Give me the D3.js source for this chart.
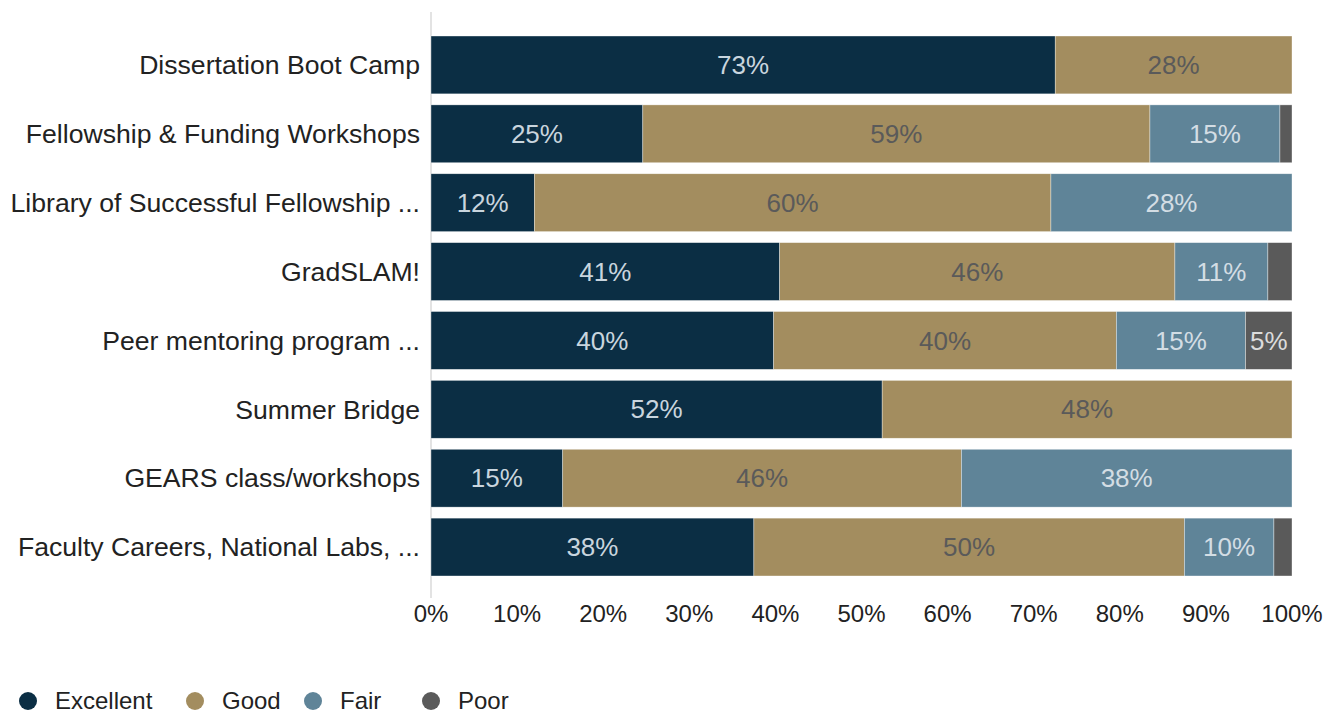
<!DOCTYPE html>
<html>
<head>
<meta charset="utf-8">
<script src="https://cdn.jsdelivr.net/npm/d3@7"></script>
<style>
  body { margin: 0; background: #fff; }
  svg text { font-family: "Liberation Sans", Arial, sans-serif; }
</style>
</head>
<body>
<svg id="chart" width="1328" height="713"></svg>
<script>
// data
const categories = [
  "Dissertation Boot Camp",
  "Fellowship & Funding Workshops",
  "Library of Successful Fellowship ...",
  "GradSLAM!",
  "Peer mentoring program ...",
  "Summer Bridge",
  "GEARS class/workshops",
  "Faculty Careers, National Labs, ..."
]
const series = ["Excellent", "Good", "Fair", "Poor"]
const excellent = [72.5, 24.6, 12.0, 40.5, 39.8, 52.4, 15.3, 37.5]
const good      = [27.5, 58.9, 60.0, 45.9, 39.8, 47.6, 46.3, 50.0]
const fair      = [0,    15.1, 28.0, 10.8, 15.0, 0,    38.4, 10.4]
const poor      = [0,    1.4,  0,    2.8,  5.4,  0,    0,    2.1]
const ticks = [0, 10, 20, 30, 40, 50, 60, 70, 80, 90, 100]

const colors = ["#0b2e44", "#a38d5f", "#5f8498", "#5a5a5a"]
const labelColors = ["#c9d5de", "#5a5a5a", "#d3dde4", "#dcdcdc"]

const rows = categories.map((c, i) => ({
  cat: c, Excellent: excellent[i], Good: good[i], Fair: fair[i], Poor: poor[i]
}))

const svg = d3.select('#chart')

const x = d3.scaleLinear().domain([0, 100]).range([431, 1292])
const y = d3.scaleBand().domain(categories).range([30.5, 581.5])
    .paddingInner(0.16).paddingOuter(0.08)
const color = d3.scaleOrdinal().domain(series).range(colors)

const stack = d3.stack().keys(series)(rows)

// axis line
svg.append('line')
    .attr('x1', 431).attr('x2', 431)
    .attr('y1', 12).attr('y2', 598)
    .attr('stroke', '#e3e3e3').attr('stroke-width', 2)

const layers = svg.append('g').selectAll('g')
    .data(stack).join('g')
    .attr('fill', d => color(d.key))

layers.selectAll('rect')
    .data(d => d.map(v => ({ key: d.key, v: v })))
    .join('rect')
    .filter(d => d.v[1] - d.v[0] > 0)
    .attr('x', d => x(d.v[0]))
    .attr('width', d => x(d.v[1]) - x(d.v[0]))
    .attr('y', d => y(d.v.data.cat))
    .attr('height', y.bandwidth())
    .attr('stroke', '#ffffff').attr('stroke-opacity', 0.6).attr('stroke-width', 0.6)

// value labels
layers.each(function (layer, li) {
  d3.select(this).selectAll('text')
      .data(layer.filter(v => v[1] - v[0] >= 4))
      .join('text')
      .attr('x', v => (x(v[0]) + x(v[1])) / 2)
      .attr('y', v => y(v.data.cat) + y.bandwidth() / 2)
      .attr('dy', '0.35em')
      .attr('text-anchor', 'middle')
      .attr('fill', labelColors[li])
      .style('font-size', '26px')
      .text(v => Math.round(v[1] - v[0]) + '%')
})

// category labels
svg.append('g').selectAll('text')
    .data(categories).join('text')
    .attr('x', 420)
    .attr('y', d => y(d) + y.bandwidth() / 2)
    .attr('dy', '0.35em')
    .attr('text-anchor', 'end')
    .attr('fill', '#222')
    .style('font-size', '26.6px')
    .text(d => d)

// x tick labels
svg.append('g').selectAll('text')
    .data(ticks).join('text')
    .attr('x', d => x(d))
    .attr('y', 614)
    .attr('dy', '0.35em')
    .attr('text-anchor', 'middle')
    .attr('fill', '#222')
    .style('font-size', '24px')
    .text(d => d + '%')

// legend
const legendX = [28, 195, 313, 431]
const legend = svg.append('g').selectAll('g')
    .data(series).join('g')
    .attr('transform', (d, i) => `translate(${legendX[i]},701)`)
legend.append('circle').attr('r', 9).attr('fill', d => color(d))
legend.append('text')
    .attr('x', 27).attr('dy', '0.35em')
    .attr('fill', '#222')
    .style('font-size', '24px')
    .text(d => d)
</script>
</body>
</html>
